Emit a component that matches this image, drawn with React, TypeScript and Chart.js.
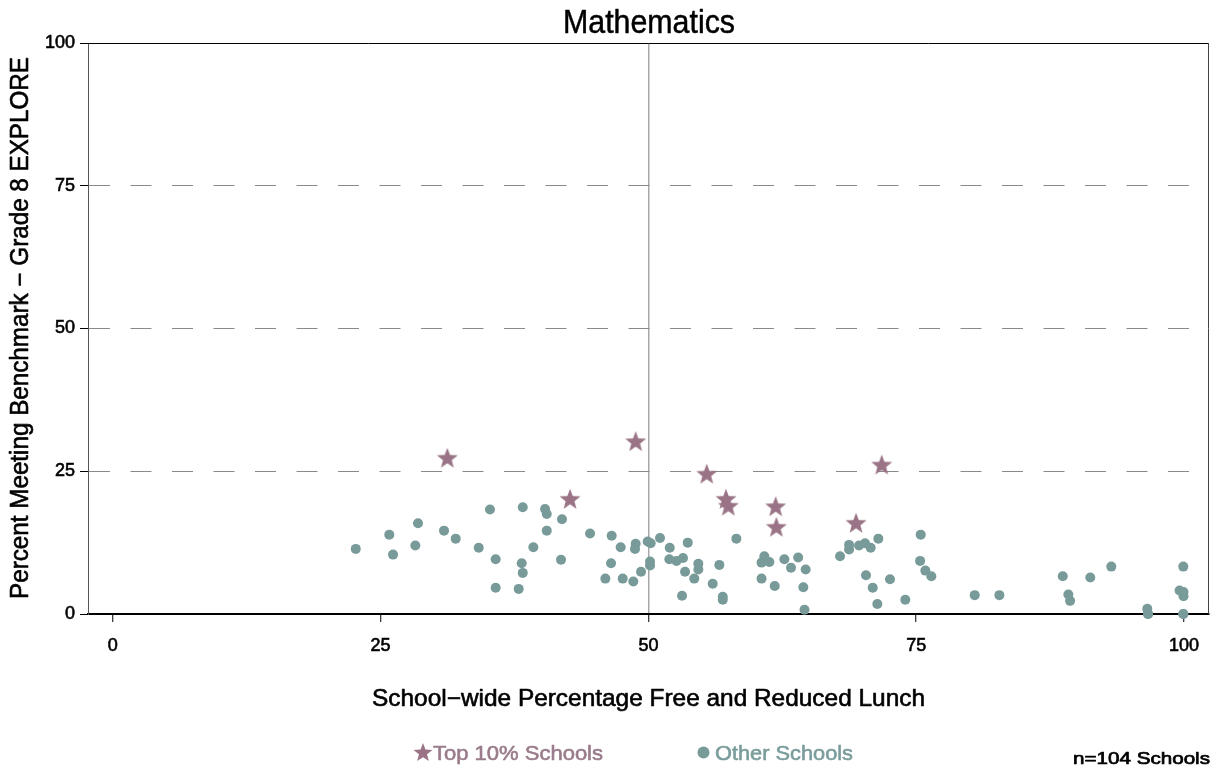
import React, { useEffect, useRef } from "react";
import { Chart, registerables } from "chart.js";

Chart.register(...registerables);

const FONT = '"Liberation Sans", Arial, Helvetica, sans-serif';

const chartTitle = "Mathematics";
const xAxisTitle = "School\u2212wide Percentage Free and Reduced Lunch";
const yAxisTitle = "Percent Meeting Benchmark \u2212 Grade 8 EXPLORE";
const legendTop = "Top 10% Schools";
const legendOther = "Other Schools";
const noteText = "n=104 Schools";

const xTicks = [0, 25, 50, 75, 100];
const yTicks = [0, 25, 50, 75, 100];
const yDashedAt = [25, 50, 75];
const xRefLineAt = 50;

const topX = [31.23, 42.68, 48.81, 55.44, 57.24, 57.46, 61.88, 61.94, 69.38, 71.78];
const topY = [27.2, 20.0, 30.1, 24.4, 20.0, 18.8, 18.7, 15.1, 15.8, 26.0];

const otherX = [
  22.68, 25.81, 26.16, 28.49, 28.24, 30.92, 32.01, 34.16, 35.21, 35.74,
  35.74, 37.89, 38.17, 38.27, 38.27, 39.26, 40.35, 40.51, 40.51, 41.93,
  41.84, 44.55, 46.57, 47.41, 45.98, 46.51, 47.6, 48.59, 49.31, 48.81,
  48.75, 49.93, 50.21, 50.15, 50.15, 51.08, 51.99, 51.95, 52.62, 53.23,
  53.67, 53.42, 54.66, 54.66, 54.28, 53.14, 56.0, 56.62, 56.94, 56.94,
  58.21, 60.56, 60.82, 61.29, 60.56, 61.79, 62.69, 63.31, 63.98, 64.68,
  64.46, 64.57, 67.89, 68.73, 68.73, 69.66, 70.22, 70.75, 71.46, 70.31,
  70.94, 71.37, 72.55, 73.98, 75.42, 75.36, 75.85, 76.41, 80.46, 82.76,
  88.68, 89.2, 89.36, 91.25, 93.21, 96.57, 96.64, 99.93, 99.58, 99.95,
  99.95, 99.93, 96.64, 99.93
];
const otherY = [
  11.4, 13.9, 10.4, 15.9, 12.0, 14.6, 13.2, 11.6, 18.3, 9.6,
  4.6, 4.4, 8.9, 7.2, 18.7, 11.7, 18.4, 17.5, 14.6, 16.6,
  9.5, 14.1, 13.7, 11.7, 6.2, 8.9, 6.2, 5.7, 7.4, 12.3,
  11.4, 12.7, 12.4, 9.2, 8.5, 13.3, 11.6, 9.6, 9.3, 9.8,
  12.5, 7.4, 8.8, 7.8, 6.2, 3.2, 5.3, 8.6, 3.0, 2.5,
  13.2, 9.0, 10.1, 9.1, 6.2, 4.9, 9.6, 8.1, 9.9, 7.8,
  4.7, 0.75, 10.1, 12.1, 11.3, 12.0, 12.4, 11.6, 13.2, 6.8,
  4.6, 1.75, 6.1, 2.5, 13.9, 9.3, 7.6, 6.6, 3.3, 3.3,
  6.6, 3.4, 2.3, 6.4, 8.3, 0.9, 0.0, 8.3, 4.1, 3.85,
  3.1, 0.0, 0.0, 0.0
];

const TOP_COLOR = "#9a7486";
const OTHER_COLOR = "#789b9a";
const TOP_TEXT = "#9a7b8b";
const OTHER_TEXT = "#7a9d9c";

function starPath(g: CanvasRenderingContext2D, cx: number, cy: number, R: number, ratio: number) {
  g.beginPath();
  for (let i = 0; i < 10; i++) {
    const r = i % 2 === 0 ? R : R * ratio;
    const a = -Math.PI / 2 + (i * Math.PI) / 5;
    const px = cx + r * Math.cos(a);
    const py = cy + r * Math.sin(a);
    if (i === 0) g.moveTo(px, py);
    else g.lineTo(px, py);
  }
  g.closePath();
}

function makeStar(color: string, R: number) {
  const size = Math.ceil(R * 2 + 2);
  const c = document.createElement("canvas");
  c.width = size;
  c.height = size;
  const g = c.getContext("2d")!;
  g.fillStyle = color;
  starPath(g, size / 2, size / 2, R, 0.42);
  g.fill();
  return c;
}

function fitText(
  ctx: CanvasRenderingContext2D,
  text: string,
  x: number,
  y: number,
  w: number,
  size: number,
  color: string,
  rot = 0,
  stroke = 0.6
) {
  ctx.save();
  ctx.font = `${size}px ${FONT}`;
  const m = ctx.measureText(text).width;
  ctx.translate(x, y);
  if (rot) ctx.rotate(rot);
  ctx.scale(w / m, 1);
  ctx.fillStyle = color;
  ctx.strokeStyle = color;
  ctx.lineWidth = stroke;
  ctx.lineJoin = "round";
  ctx.textAlign = "left";
  ctx.textBaseline = "alphabetic";
  ctx.fillText(text, 0, 0);
  if (stroke > 0) ctx.strokeText(text, 0, 0);
  ctx.restore();
}

const decorPlugin = {
  id: "decor",
  afterDraw(chart: any) {
    const { ctx, chartArea: a } = chart;
    ctx.save();
    ctx.lineWidth = 1;
    ctx.strokeStyle = "#000";
    ctx.beginPath();
    ctx.moveTo(a.left, Math.round(a.top) + 0.5);
    ctx.lineTo(a.right, Math.round(a.top) + 0.5);
    ctx.stroke();
    ctx.strokeStyle = "#444";
    ctx.beginPath();
    ctx.moveTo(Math.round(a.right) - 0.5, a.top);
    ctx.lineTo(Math.round(a.right) - 0.5, a.bottom);
    ctx.stroke();
    ctx.restore();

    fitText(ctx, chartTitle, 563, 33, 172, 33, "#000", 0, 0.5);
    fitText(ctx, xAxisTitle, 372, 706, 553, 24, "#000");
    fitText(ctx, yAxisTitle, 28, 599, 542, 25, "#000", -Math.PI / 2);

    ctx.save();
    ctx.fillStyle = TOP_COLOR;
    starPath(ctx, 423, 753, 10, 0.42);
    ctx.fill();
    ctx.fillStyle = OTHER_COLOR;
    ctx.beginPath();
    ctx.arc(703.5, 752.5, 6, 0, Math.PI * 2);
    ctx.fill();
    ctx.restore();
    fitText(ctx, legendTop, 433, 760, 170, 21, TOP_TEXT);
    fitText(ctx, legendOther, 715, 760, 138, 21, OTHER_TEXT);
    fitText(ctx, noteText, 1073, 764, 137, 17, "#000", 0, 0.7);
  },
};

export default function App() {
  const ref = useRef<HTMLCanvasElement | null>(null);
  useEffect(() => {
    if (!ref.current) return;
    const star = makeStar(TOP_COLOR, 11);
    const topData = topX.map((x, i) => ({ x, y: topY[i] }));
    const otherData = otherX.map((x, i) => ({ x, y: otherY[i] }));
    const transparent = "rgba(0,0,0,0)";
    const chart = new Chart(ref.current, {
      type: "scatter",
      data: {
        datasets: [
          {
            label: legendTop,
            data: topData,
            pointStyle: star as any,
            pointRadius: 11,
            backgroundColor: TOP_COLOR,
            borderColor: TOP_COLOR,
            clip: false as any,
          },
          {
            label: legendOther,
            data: otherData,
            pointStyle: "circle",
            pointRadius: 5,
            borderWidth: 0,
            backgroundColor: OTHER_COLOR,
            borderColor: OTHER_COLOR,
            clip: false as any,
          },
        ],
      },
      options: {
        animation: false,
        responsive: false,
        maintainAspectRatio: false,
        layout: { autoPadding: false, padding: { top: 43, right: 6, left: 0, bottom: 0 } },
        plugins: {
          legend: { display: false },
          title: { display: false },
          tooltip: { enabled: false },
        },
        scales: {
          x: {
            type: "linear",
            min: -2.315,
            max: 102.33,
            afterBuildTicks: (s: any) => {
              s.ticks = xTicks.map((v) => ({ value: v }));
            },
            afterFit: (s: any) => {
              s.height = 156;
              s.paddingLeft = 0;
              s.paddingRight = 0;
            },
            grid: {
              color: (c: any) => (c.tick && c.tick.value === xRefLineAt ? "#a8a8a8" : transparent),
              lineWidth: 1.5,
              tickColor: "#000",
              tickLength: 8,
              tickWidth: 1,
            },
            border: { color: "#000", width: 2 },
            ticks: {
              font: { size: 18, family: FONT },
              color: "#000",
              textStrokeColor: "#000",
              textStrokeWidth: 0.6,
              padding: 13,
              maxRotation: 0,
              autoSkip: false,
            },
          },
          y: {
            type: "linear",
            min: 0,
            max: 100,
            afterBuildTicks: (s: any) => {
              s.ticks = yTicks.map((v) => ({ value: v }));
            },
            afterFit: (s: any) => {
              s.width = 88;
              s.paddingTop = 0;
              s.paddingBottom = 0;
            },
            grid: {
              color: (c: any) => (c.tick && yDashedAt.includes(c.tick.value) ? "#8a8a8a" : transparent),
              lineWidth: 1,
              tickColor: "#000",
              tickLength: 8,
              tickWidth: 1,
            },
            border: { color: "#555", width: 1, dash: [21, 20.5] },
            ticks: {
              font: { size: 18, family: FONT },
              color: "#000",
              textStrokeColor: "#000",
              textStrokeWidth: 0.6,
              padding: 5,
              autoSkip: false,
            },
          },
        },
      },
      plugins: [decorPlugin],
    });
    return () => chart.destroy();
  }, []);
  return (
    <div style={{ position: "absolute", left: 0, top: 0, width: 1215, height: 770, background: "#fff" }}>
      <canvas ref={ref} width={1215} height={770} style={{ display: "block" }} />
    </div>
  );
}
